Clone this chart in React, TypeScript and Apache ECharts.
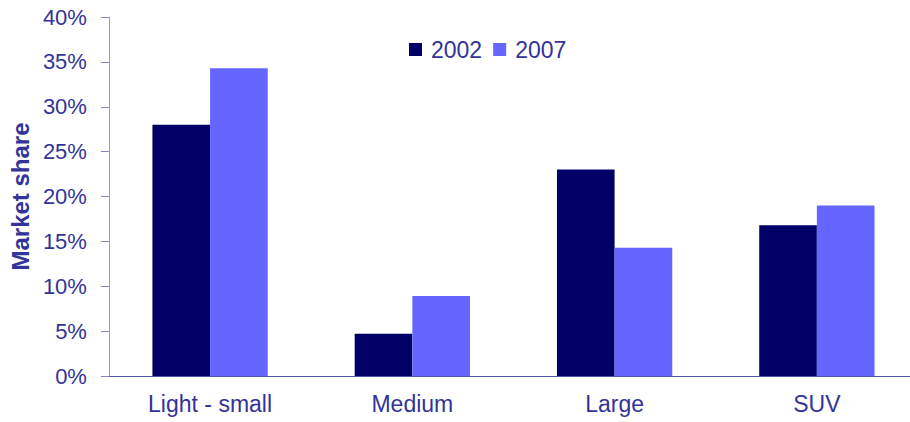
import React, { useEffect, useRef } from "react";
import * as echarts from "echarts";

const categories = ["Light - small", "Medium", "Large", "SUV"];
const series2002 = [28.0, 4.7, 23.0, 16.8];
const series2007 = [34.3, 8.9, 14.3, 19.0];
const seriesNames = ["2002", "2007"];

export default function App() {
  const ref = useRef<HTMLDivElement>(null);
  useEffect(() => {
    document.body.style.margin = "0";
    const chart = echarts.init(ref.current!, null, { renderer: "svg" });
    const textColor = "#333399";
    chart.setOption({
      animation: false,
      textStyle: { fontFamily: "Liberation Sans, Arial, sans-serif" },
      legend: {
        data: seriesNames,
        left: 404,
        top: 33,
        itemWidth: 13,
        itemHeight: 13,
        itemGap: 11,
        icon: "rect",
        textStyle: { color: textColor, fontSize: 23, padding: [0, 0, 0, 4] },
      },
      grid: { left: 104, right: 0, top: 17, bottom: 46, containLabel: false },
      xAxis: {
        type: "category",
        data: categories,
        axisLine: { lineStyle: { color: "#5555aa", width: 1 } },
        axisTick: { length: 8, lineStyle: { color: "#8888c4" } },
        axisLabel: { color: textColor, fontSize: 23, margin: 16 },
      },
      yAxis: {
        type: "value",
        min: 0,
        max: 40,
        interval: 5,
        name: "Market share",
        nameLocation: "middle",
        nameGap: 76,
        nameTextStyle: { color: textColor, fontSize: 24, fontWeight: "bold" },
        axisLine: { show: true, lineStyle: { color: "#9999cc" } },
        axisTick: { show: true, length: 8, lineStyle: { color: "#8888c4" } },
        axisLabel: { color: textColor, fontSize: 22, margin: 22, formatter: "{value}%" },
        splitLine: { show: false },
      },
      series: [
        {
          name: seriesNames[0],
          type: "bar",
          data: series2002,
          barWidth: "28.5%",
          barGap: "0%",
          itemStyle: { color: "#000066" },
        },
        {
          name: seriesNames[1],
          type: "bar",
          data: series2007,
          barWidth: "28.5%",
          barGap: "0%",
          itemStyle: { color: "#6666ff" },
        },
      ],
    });
    return () => chart.dispose();
  }, []);
  return (
    <div style={{ width: 910, height: 422, overflow: "hidden" }}>
      <div ref={ref} style={{ width: 918, height: 422 }} />
    </div>
  );
}
